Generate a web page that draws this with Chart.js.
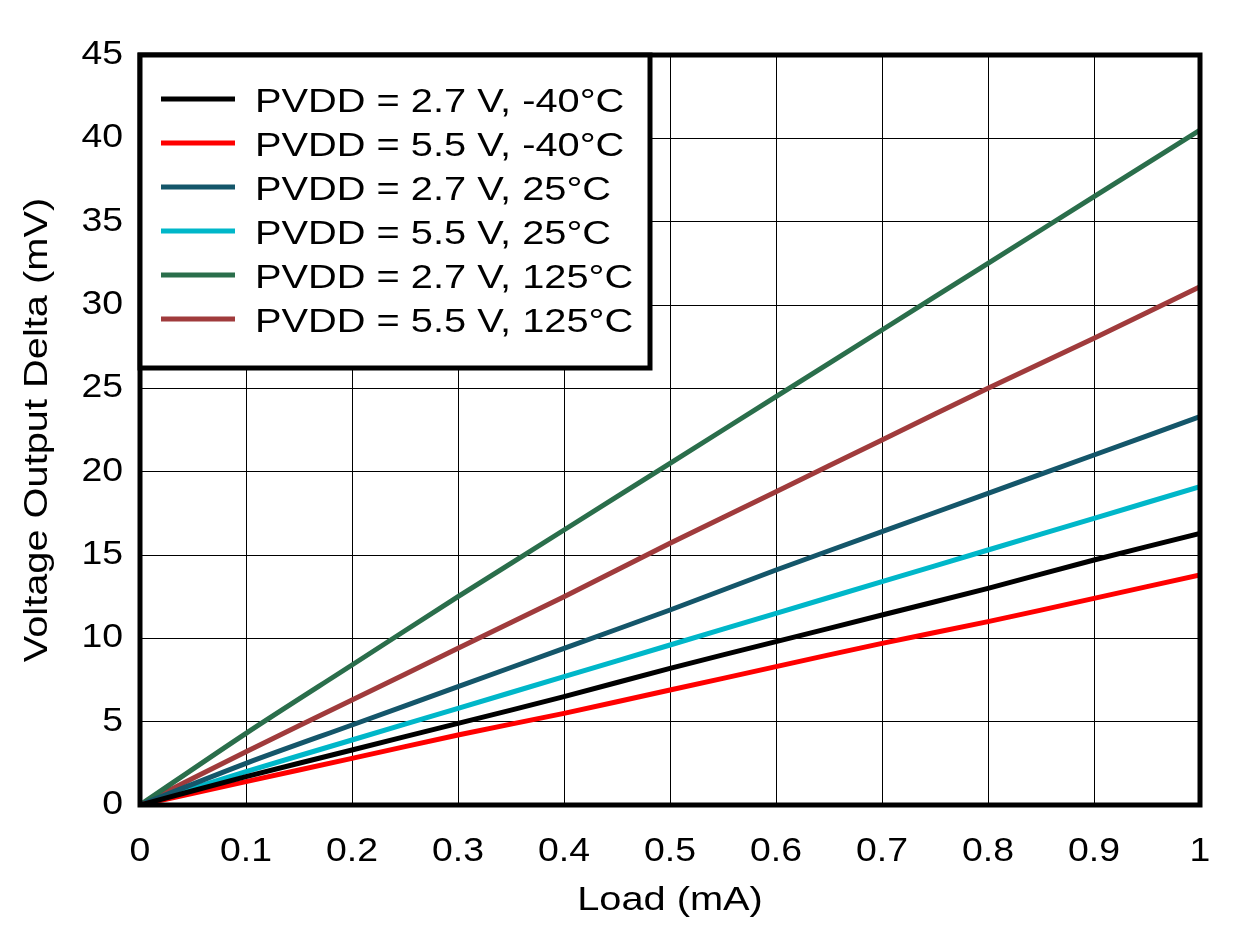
<!DOCTYPE html>
<html>
<head>
<meta charset="utf-8">
<script src="https://cdn.jsdelivr.net/npm/chart.js@4"></script>
<style>
  html, body { margin: 0; padding: 0; background: #fff; }
  #wrap { width: 1240px; height: 927px; }
</style>
</head>
<body>
<div id="wrap"><canvas id="chart" width="1240" height="927"></canvas></div>
<script>
/* ===== data ===== */
const loadMA      = [0, 0.1, 0.2, 0.3, 0.4, 0.5, 0.6, 0.7, 0.8, 0.9, 1];
const xTickLabels = ['0','0.1','0.2','0.3','0.4','0.5','0.6','0.7','0.8','0.9','1'];
const yTickValues = [0, 5, 10, 15, 20, 25, 30, 35, 40, 45];
const yTickLabels = ['0','5','10','15','20','25','30','35','40','45'];
const xTitle = 'Load (mA)';
const yTitle = 'Voltage Output Delta (mV)';

const seriesLabels = [
  'PVDD = 2.7 V, -40°C',
  'PVDD = 5.5 V, -40°C',
  'PVDD = 2.7 V, 25°C',
  'PVDD = 5.5 V, 25°C',
  'PVDD = 2.7 V, 125°C',
  'PVDD = 5.5 V, 125°C'
];
const seriesColors = ['#000000', '#ff0000', '#14566a', '#00b7c9', '#2a6e4b', '#a03b3c'];

const v27_m40  = [0, 1.7, 3.3, 4.9, 6.5, 8.2, 9.8, 11.4, 13.0, 14.7, 16.3];
const v55_m40  = [0, 1.4, 2.8, 4.2, 5.5, 6.9, 8.3, 9.7, 11.0, 12.4, 13.8];
const v27_25   = [0, 2.5, 4.8, 7.1, 9.4, 11.7, 14.1, 16.4, 18.7, 21.0, 23.3];
const v55_25   = [0, 2.0, 3.9, 5.8, 7.7, 9.6, 11.5, 13.4, 15.3, 17.2, 19.1];
const v27_125  = [0, 4.3, 8.4, 12.5, 16.5, 20.5, 24.5, 28.5, 32.5, 36.5, 40.5];
const v55_125  = [0, 3.2, 6.3, 9.4, 12.5, 15.7, 18.8, 21.9, 25.0, 28.0, 31.1];
const seriesValues = [v27_m40, v55_m40, v27_25, v55_25, v27_125, v55_125];

const FONT = '34px Arial, "Liberation Sans", sans-serif';

/* reference text is horizontally stretched Arial -> draw it ourselves */
function wideText (ctx, txt, x, y, align, sx, rot) {
  ctx.save();
  ctx.translate(x, y);
  if (rot) ctx.rotate(rot);
  ctx.scale(sx, 1);
  ctx.font = FONT;
  ctx.fillStyle = '#000';
  ctx.textAlign = align;
  ctx.textBaseline = 'alphabetic';
  ctx.fillText(txt, 0, 0);
  ctx.restore();
}

/* ===== plugin: labels, frame, boxed legend ===== */
const framePlugin = {
  id: 'frame',
  afterDraw (chart) {
    const { ctx, chartArea: a } = chart;
    const xs = chart.scales.x, ys = chart.scales.y;

    /* tick labels + axis titles */
    loadMA.forEach((v, i) => wideText(ctx, xTickLabels[i], xs.getPixelForValue(v), 861, 'center', 1.1));
    yTickValues.forEach((v, i) => wideText(ctx, yTickLabels[i], 123, ys.getPixelForValue(v) + 9, 'right', 1.1));
    wideText(ctx, xTitle, (a.left + a.right) / 2, 910, 'center', 1.17);
    wideText(ctx, yTitle, 47, (a.top + a.bottom) / 2, 'center', 1.17, -Math.PI / 2);

    ctx.save();
    ctx.strokeStyle = '#000';
    ctx.lineWidth = 5;
    ctx.strokeRect(a.left, a.top, a.right - a.left, a.bottom - a.top);

    /* legend box in the upper-left corner */
    const bx = a.left, by = a.top, bw = 510, bh = 313;
    ctx.fillStyle = '#fff';
    ctx.fillRect(bx, by, bw, bh);
    ctx.strokeRect(bx, by, bw, bh);

    chart.data.datasets.forEach((ds, i) => {
      const y = by + 44 + i * 44;
      ctx.strokeStyle = ds.borderColor;
      ctx.lineWidth = 5;
      ctx.beginPath();
      ctx.moveTo(bx + 21, y);
      ctx.lineTo(bx + 95, y);
      ctx.stroke();
      wideText(ctx, ds.label, bx + 115, y + 13, 'left', 1.17);
    });
    ctx.restore();
  }
};

/* ===== chart ===== */
const datasets = seriesLabels.map((lbl, i) => ({
  label: lbl,
  data: loadMA.map((x, j) => ({ x, y: seriesValues[i][j] })),
  borderColor: seriesColors[i],
  backgroundColor: seriesColors[i],
  borderWidth: 5,
  pointRadius: 0,
  tension: 0.3,
  fill: false
}));

new Chart(document.getElementById('chart'), {
  type: 'line',
  data: { datasets },
  options: {
    responsive: false,
    animation: false,
    layout: { padding: { top: 55, right: 40, bottom: 0, left: 0 } },
    plugins: { legend: { display: false }, tooltip: { enabled: false } },
    scales: {
      x: {
        type: 'linear', min: 0, max: 1,
        afterFit: s => { s.height = 122; },
        afterBuildTicks: s => { s.ticks = loadMA.map(v => ({ value: v })); },
        ticks: { display: false },
        grid: { color: '#000', lineWidth: 1, drawTicks: false },
        border: { display: false }
      },
      y: {
        min: 0, max: 45,
        afterFit: s => { s.width = 140; },
        afterBuildTicks: s => { s.ticks = yTickValues.map(v => ({ value: v })); },
        ticks: { display: false },
        grid: { color: '#000', lineWidth: 1, drawTicks: false },
        border: { display: false }
      }
    }
  },
  plugins: [framePlugin]
});
</script>
</body>
</html>
